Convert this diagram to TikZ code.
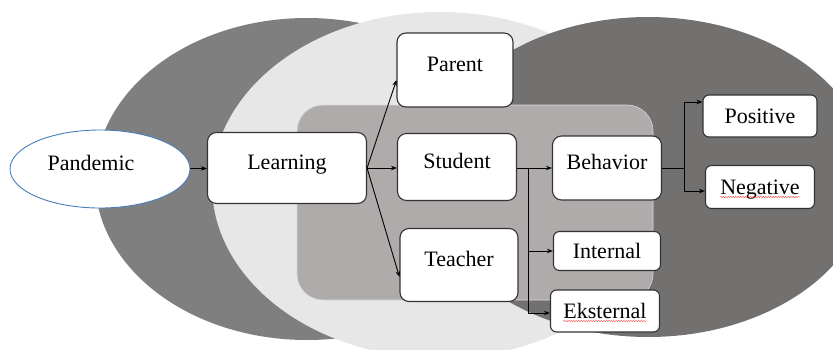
\documentclass[tikz,border=0pt]{standalone}
\usepackage{fontspec}
\setmainfont{Liberation Serif}
\usetikzlibrary{arrows.meta, positioning, shapes.geometric, decorations.pathmorphing}
\definecolor{leftshade}{HTML}{7F7F7F}
\definecolor{midshade}{HTML}{E7E7E7}
\definecolor{rightshade}{HTML}{737070}
\definecolor{coreshade}{HTML}{AFABAB}
\definecolor{boxline}{HTML}{333333}
\definecolor{pandblue}{HTML}{4A7EBB}

\begin{document}
\begin{tikzpicture}[
  x=1pt, y=-1pt,
  font=\fontsize{22}{26}\selectfont,
  >={Stealth[length=6pt, width=4.5pt]},
  box/.style={draw=boxline, fill=white, line width=1.1pt, rounded corners=9pt, inner sep=0pt, text height=14pt, text depth=12pt},
  tag/.style={draw=boxline, fill=white, line width=1.1pt, rounded corners=6pt, inner sep=0pt, text height=14pt, text depth=0pt},
  link/.style={->, line width=0.9pt},
  spell/.style={decorate, decoration={snake, amplitude=0.5pt, segment length=2.5pt}, draw=red!85, line width=0.4pt}
  ]
  \useasboundingbox (0,0) rectangle (833,349);
  \clip (0,0) rectangle (833,349);
  % the three overlapping regions and the inner panel
  \fill[leftshade] (307,179) ellipse [x radius=212pt, y radius=161pt];
  \fill[midshade] (440,185) ellipse [x radius=228pt, y radius=173pt];
  \fill[rightshade] (648,177) ellipse [x radius=222pt, y radius=160pt];
  \draw[fill=coreshade, draw=white!85!black, line width=0.6pt, rounded corners=26pt] (297,105) rectangle (653,300);

  % nodes
  \node[ellipse, draw=pandblue, fill=white, line width=0.9pt, inner sep=0pt, minimum width=180pt, minimum height=78pt, text height=14pt, text depth=12pt] (pandemic) at (100,169) {Pandemic\kern18pt};
  \node[box, minimum width=159pt, minimum height=71pt] (learning) at (287,168) {Learning};
  \node[box, minimum width=116pt, minimum height=74pt] (parent) at (455,70) {Parent};
  \node[box, minimum width=119pt, minimum height=67pt] (student) at (457,167) {Student};
  \node[box, minimum width=118pt, minimum height=73pt] (teacher) at (459,265) {Teacher};
  \node[box, minimum width=109pt, minimum height=64pt] (behavior) at (607,168) {Behavior};
  \node[tag, minimum width=107pt, minimum height=39pt] (internal) at (607,251) {Internal};
  \node[tag, minimum width=109pt, minimum height=42pt] (eksternal) at (605,311) {Eksternal};
  \node[tag, minimum width=114pt, minimum height=42pt] (positive) at (760,116) {Positive};
  \node[tag, minimum width=109pt, minimum height=43pt] (negative) at (760,187) {Negative};

  % spell-check marks
  \draw[spell] ([xshift=-42pt, yshift=-3pt]eksternal.base) -- ([xshift=42pt, yshift=-3pt]eksternal.base);
  \draw[spell] ([xshift=-40pt, yshift=-3pt]negative.base) -- ([xshift=40pt, yshift=-3pt]negative.base);

  % connectors
  \coordinate (split) at (528,168);
  \coordinate (fork) at (684,168);
  \draw[link] (pandemic) -- (learning);
  \draw[link] (learning.east) -- ([yshift=-10pt]parent.west);
  \draw[link] (learning.east) -- (student.west |- learning.east);
  \draw[link] (learning.east) -- ([yshift=-12pt]teacher.west);
  \draw[link] (student.east |- split) -- (behavior.west |- split);
  \draw[link] (split) |- ([yshift=-2pt]eksternal.west);
  \draw[link] (split |- internal.west) -- (internal.west);
  \draw[line width=0.9pt] (behavior.east |- fork) -- (fork);
  \draw[link] (fork) |- ([yshift=14pt]positive.west);
  \draw[link] (fork) |- ([yshift=-4pt]negative.west);
\end{tikzpicture}
\end{document}
